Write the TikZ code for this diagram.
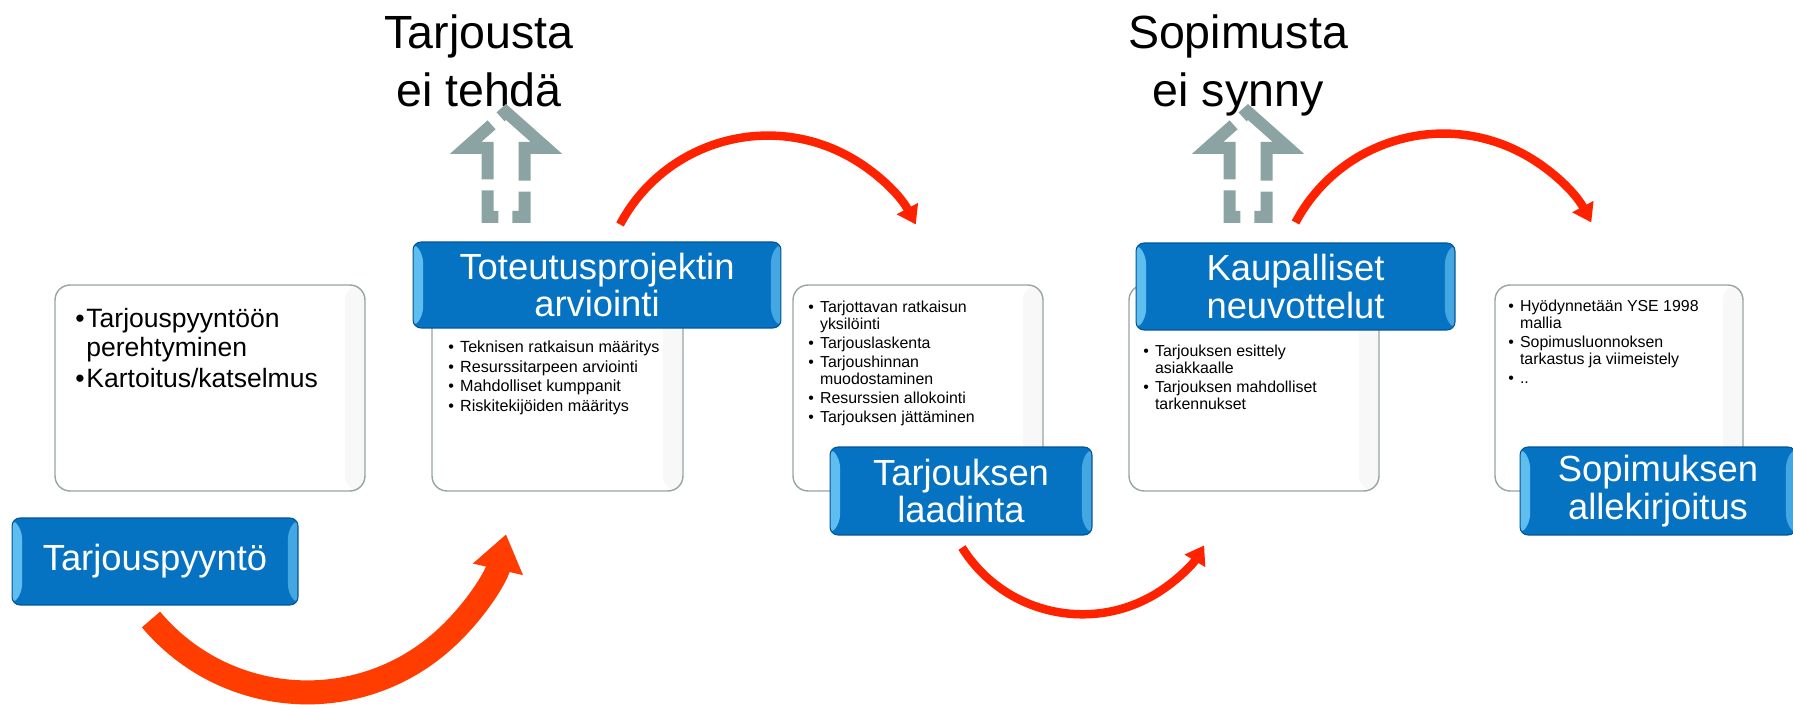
\documentclass[tikz,border=0pt]{standalone}
\usepackage{fontspec}
\setmainfont{Liberation Sans}
\usetikzlibrary{arrows.meta, positioning, calc}
\definecolor{boxblue}{RGB}{6, 114, 194}
\definecolor{bevelblue}{RGB}{95, 190, 240}
\definecolor{edgeblue}{RGB}{0, 84, 150}
\definecolor{flowred}{RGB}{255, 34, 0}
\definecolor{bigred}{RGB}{255, 61, 0}
\definecolor{dropgray}{RGB}{140, 163, 163}
\definecolor{framegray}{RGB}{150, 165, 165}

\begin{document}
\begin{tikzpicture}[x=0.02cm, y=0.02cm,
    stage/.style={
        rectangle, draw=edgeblue, fill=boxblue, rounded corners=0.16cm,
        text=white, align=center, inner sep=0pt, line width=0.6pt,
        font=\fontsize{20.7}{21.6}\selectfont,
        path picture={
            \fill[bevelblue] (path picture bounding box.north west) -- ++(0.2cm,-0.24cm)
                -- ($(path picture bounding box.south west)+(0.2cm,0.24cm)$)
                -- (path picture bounding box.south west) -- cycle;
            \fill[bevelblue!70!boxblue] (path picture bounding box.north east) -- ++(-0.2cm,-0.24cm)
                -- ($(path picture bounding box.south east)+(-0.2cm,0.24cm)$)
                -- (path picture bounding box.south east) -- cycle;
        }
    },
    panel/.style={
        rectangle, draw=framegray, fill=white, rounded corners=0.3cm,
        line width=0.8pt, minimum height=4.12cm,
        path picture={
            \shade[left color=white, right color=black!3]
                ($(path picture bounding box.north east)+(-0.4cm,0)$) rectangle (path picture bounding box.south east);
        }
    },
    bullets/.style={anchor=base west, inner sep=0pt, align=left},
    title/.style={align=center, inner sep=0pt, font=\fontsize{26.5}{33}\selectfont},
    flow/.style={-{Triangle[length=0.36cm, width=0.46cm]}, draw=flowred, line width=0.17cm},
    bigflow/.style={-{Triangle[length=0.72cm, width=0.98cm]}, draw=bigred, line width=0.48cm},
    dropout/.style={draw=dropgray, line width=0.24cm, line join=miter,
        dash pattern=on 0.75cm off 0.22cm on 2.32cm off 0.24cm on 1.764cm off 0.22cm on 0.75cm off 0.28cm}
]
\useasboundingbox (0,0) rectangle (1793,-705);

% Content panels
\node[panel, minimum width=6.2cm] (p1) at (210,-388) {};
\node[panel, minimum width=5.02cm] (p2) at (557.5,-388) {};
\node[panel, minimum width=5.0cm] (p3) at (918,-388) {};
\node[panel, minimum width=5.0cm] (p4) at (1254,-388) {};
\node[panel, minimum width=4.96cm] (p5) at (1619,-388) {};

% Panel texts
\node[bullets, font=\fontsize{15.1}{16}\selectfont] (l1) at (75,-328)
    {\begin{tabular}[t]{@{}l@{\hspace{1pt}}l@{}}
    \textbullet & Tarjouspyyntöön\\ & perehtyminen\\[2pt]
    \textbullet & Kartoitus/katselmus\end{tabular}};
\node[bullets, font=\fontsize{9.2}{11.1}\selectfont] (l2) at (448,-353)
    {\begin{tabular}[t]{@{}l@{\hspace{3.5pt}}l@{}}
    \textbullet & Teknisen ratkaisun määritys\\
    \textbullet & Resurssitarpeen arviointi\\
    \textbullet & Mahdolliset kumppanit\\
    \textbullet & Riskitekijöiden määritys\end{tabular}};
\node[bullets, font=\fontsize{9.05}{9.6}\selectfont] (l3) at (808,-313)
    {\begin{tabular}[t]{@{}l@{\hspace{3.5pt}}l@{}}
    \textbullet & Tarjottavan ratkaisun\\ & yksilöinti\\[1.2pt]
    \textbullet & Tarjouslaskenta\\[1.2pt]
    \textbullet & Tarjoushinnan\\ & muodostaminen\\[1.2pt]
    \textbullet & Resurssien allokointi\\[1.2pt]
    \textbullet & Tarjouksen jättäminen\end{tabular}};
\node[bullets, font=\fontsize{9.05}{9.6}\selectfont] (l4) at (1143,-357)
    {\begin{tabular}[t]{@{}l@{\hspace{3.5pt}}l@{}}
    \textbullet & Tarjouksen esittely\\ & asiakkaalle\\[1.2pt]
    \textbullet & Tarjouksen mahdolliset\\ & tarkennukset\end{tabular}};
\node[bullets, font=\fontsize{9.05}{9.6}\selectfont] (l5) at (1508,-312)
    {\begin{tabular}[t]{@{}l@{\hspace{3.5pt}}l@{}}
    \textbullet & Hyödynnetään YSE 1998\\ & mallia\\[1.2pt]
    \textbullet & Sopimusluonnoksen\\ & tarkastus ja viimeistely\\[1.2pt]
    \textbullet & ..\end{tabular}};

% Phases
\node[stage, minimum width=5.72cm, minimum height=1.74cm] (req) at (155,-561.5) {Tarjouspyyntö};
\node[stage, minimum width=7.36cm, minimum height=1.72cm] (eval) at (597,-285) {Toteutusprojektin\\arviointi};
\node[stage, minimum width=5.24cm, minimum height=1.76cm] (offer) at (961,-491) {Tarjouksen\\laadinta};
\node[stage, minimum width=6.38cm, minimum height=1.74cm] (nego) at (1295.5,-286.5) {Kaupalliset\\neuvottelut};
\node[stage, minimum width=5.52cm, minimum height=1.76cm] (sign) at (1658,-491) {Sopimuksen\\allekirjoitus};

% Exits
\node[title, anchor=north] (nooffer) at (479,-14) {Tarjousta\\ei tehdä};
\node[title, anchor=north] (nodeal) at (1238,-14) {Sopimusta\\ei synny};
\draw[dropout] (512.5,-217) -- ++(12,0) -- ++(0,69) -- ++(22,0) -- ++(-40.5,36)
    -- ++(-40.5,-36) -- ++(22,0) -- ++(0,-69) -- cycle;
\draw[dropout] (1254.5,-217) -- ++(12,0) -- ++(0,69) -- ++(22,0) -- ++(-40.5,36)
    -- ++(-40.5,-36) -- ++(22,0) -- ++(0,-69) -- cycle;

% Flow arrows
\draw[bigflow] ($(req.south)+(-4,-14)$) arc[start angle=220, end angle=347, radius=204];
\draw[flow] ($(eval.north)+(23,17)$) arc[start angle=152, end angle=28, radius=167.5];
\draw[flow] ($(offer.south)+(1,-12)$) arc[start angle=212, end angle=329, radius=142];
\draw[flow] ($(nego.north)+(0,20)$) arc[start angle=152, end angle=28, radius=167.5];

\end{tikzpicture}
\end{document}
